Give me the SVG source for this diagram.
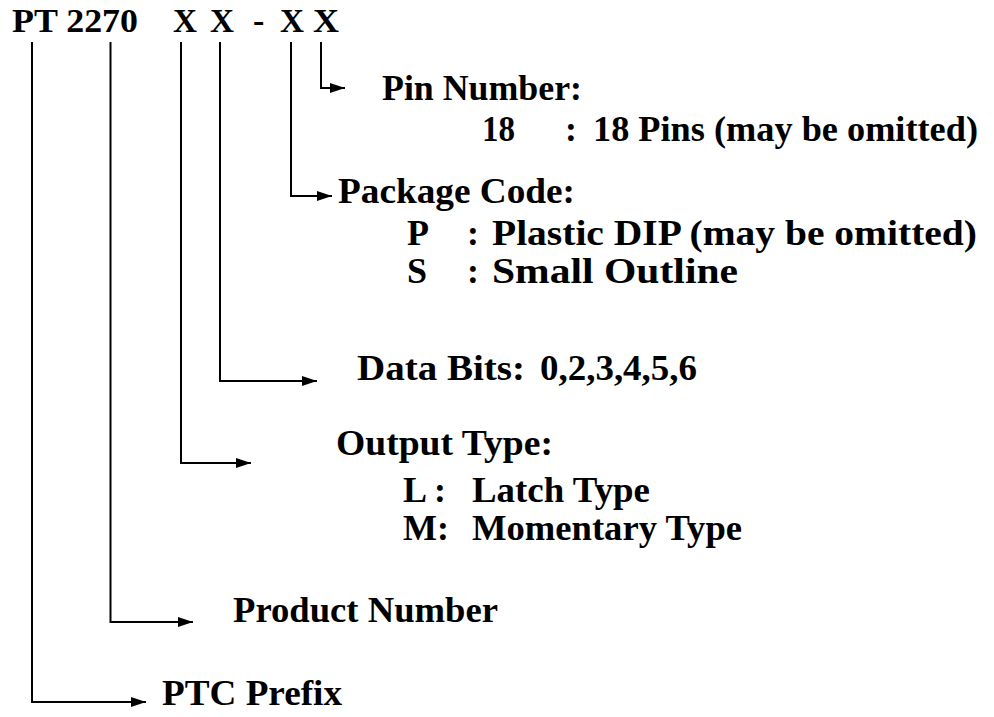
<svg xmlns="http://www.w3.org/2000/svg" width="994" height="717" viewBox="0 0 994 717">
  <style>
    text { font-family: "Liberation Serif", "Times New Roman", serif; font-weight: bold; fill: #000; }
    .code { font-size: 34px; }
    .lbl { font-size: 36px; }
    .conn { fill: none; stroke: #000; stroke-width: 2; marker-end: url(#arrow); }
  </style>
  <defs>
    <marker id="arrow" markerUnits="userSpaceOnUse" markerWidth="15" markerHeight="10" refX="15" refY="5" orient="auto">
      <path d="M0,0 L15,5 L0,10 z" fill="#000"/>
    </marker>
  </defs>
  <rect width="994" height="717" fill="#fff"/>

  <g id="part-code">
    <text class="code" x="12" y="32" textLength="126" lengthAdjust="spacingAndGlyphs">PT 2270</text>
    <text class="code" x="173" y="32" textLength="24" lengthAdjust="spacingAndGlyphs">X</text>
    <text class="code" x="210" y="32" textLength="24" lengthAdjust="spacingAndGlyphs">X</text>
    <text class="code" x="253" y="32">-</text>
    <text class="code" x="280" y="32" textLength="24" lengthAdjust="spacingAndGlyphs">X</text>
    <text class="code" x="313" y="32" textLength="26" lengthAdjust="spacingAndGlyphs">X</text>
  </g>

  <g id="connectors">
    <path class="conn" d="M321 42 V88 H345"/>
    <path class="conn" d="M291 42 V196 H332"/>
    <path class="conn" d="M220 42 V381 H317"/>
    <path class="conn" d="M181 42 V463 H251"/>
    <path class="conn" d="M110.5 42 V622 H193"/>
    <path class="conn" d="M32 42 V702 H146"/>
  </g>

  <g id="pin-number">
    <text class="lbl" x="382" y="100" textLength="200" lengthAdjust="spacingAndGlyphs">Pin Number:</text>
    <text class="lbl" x="482" y="141" textLength="33" lengthAdjust="spacingAndGlyphs">18</text>
    <text class="lbl" x="565" y="141">:</text>
    <text class="lbl" x="593" y="141" textLength="385" lengthAdjust="spacingAndGlyphs">18 Pins (may be omitted)</text>
  </g>

  <g id="package-code">
    <text class="lbl" x="338" y="203" textLength="237" lengthAdjust="spacingAndGlyphs">Package Code:</text>
    <text class="lbl" x="407" y="245">P</text>
    <text class="lbl" x="467" y="245">:</text>
    <text class="lbl" x="492" y="245" textLength="485" lengthAdjust="spacingAndGlyphs">Plastic DIP (may be omitted)</text>
    <text class="lbl" x="407" y="283">S</text>
    <text class="lbl" x="467" y="283">:</text>
    <text class="lbl" x="492" y="283" textLength="246" lengthAdjust="spacingAndGlyphs">Small Outline</text>
  </g>

  <g id="data-bits">
    <text class="lbl" x="357" y="380" textLength="168" lengthAdjust="spacingAndGlyphs">Data Bits:</text>
    <text class="lbl" x="540" y="380" textLength="157" lengthAdjust="spacingAndGlyphs">0,2,3,4,5,6</text>
  </g>

  <g id="output-type">
    <text class="lbl" x="336" y="455" textLength="217" lengthAdjust="spacingAndGlyphs">Output Type:</text>
    <text class="lbl" x="403" y="502">L :</text>
    <text class="lbl" x="472" y="502" textLength="178" lengthAdjust="spacingAndGlyphs">Latch Type</text>
    <text class="lbl" x="403" y="540">M:</text>
    <text class="lbl" x="472" y="540" textLength="270" lengthAdjust="spacingAndGlyphs">Momentary Type</text>
  </g>

  <g id="product-number">
    <text class="lbl" x="233" y="622" textLength="265" lengthAdjust="spacingAndGlyphs">Product Number</text>
  </g>

  <g id="ptc-prefix">
    <text class="lbl" x="162" y="705" textLength="180" lengthAdjust="spacingAndGlyphs">PTC Prefix</text>
  </g>
</svg>
